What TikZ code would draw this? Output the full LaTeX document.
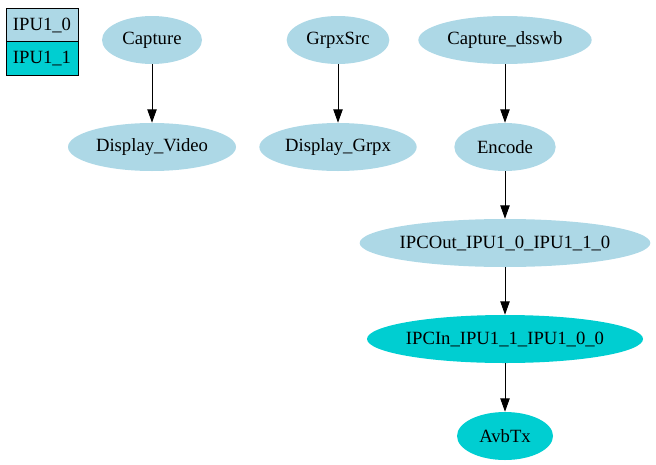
\documentclass[tikz,border=0pt]{standalone}
\usepackage{fontspec}
\setmainfont{Liberation Serif}
\usetikzlibrary{shapes.geometric, arrows.meta}

\definecolor{lblue}{HTML}{ADD8E6}
\definecolor{dturq}{HTML}{00CED1}

\begin{document}
\begin{tikzpicture}[x=0.75pt, y=-0.75pt, inner sep=0pt, >={Triangle[length=10pt,width=7pt]},
  every node/.style={font=\fontsize{14}{16}\selectfont},
  proc/.style={ellipse, fill=lblue, inner xsep=-40pt, minimum height=36pt, minimum width=#1},
  link/.style={ellipse, fill=dturq, inner xsep=-40pt, minimum height=36pt, minimum width=#1},
  key/.style={rectangle, draw=black, line width=0.75pt, fill=#1, minimum width=54pt, minimum height=25pt}]
\useasboundingbox (0,0) rectangle (656,464);
% legend
\node (k0) at (42,25) [key=lblue] {IPU1\_0};
\node (k1) at (42,58.5) [key=dturq] {IPU1\_1};
% IPU1_0 chains
\node (cap) at (152,40) [proc=75pt] {Capture};
\node (dvid) at (152,147) [proc=126pt] {Display\_Video};
\node (grpx) at (338,40) [proc=77pt] {GrpxSrc};
\node (dgrpx) at (338,147) [proc=118pt] {Display\_Grpx};
\node (dss) at (505,40) [proc=130pt] {Capture\_dsswb};
\node (enc) at (505,147) [proc=76pt] {Encode};
\node (out) at (505,243) [proc=218pt] {IPCOut\_IPU1\_0\_IPU1\_1\_0};
% IPU1_1 chain
\node (in) at (505,339) [link=207pt] {IPCIn\_IPU1\_1\_IPU1\_0\_0};
\node (avb) at (505,436) [link=72pt] {AvbTx};
\draw[->, line width=0.75pt] (cap) -- (dvid);
\draw[->, line width=0.75pt] (grpx) -- (dgrpx);
\draw[->, line width=0.75pt] (dss) -- (enc);
\draw[->, line width=0.75pt] (enc) -- (out);
\draw[->, line width=0.75pt] (out) -- (in);
\draw[->, line width=0.75pt] (in) -- (avb);
\end{tikzpicture}
\end{document}
